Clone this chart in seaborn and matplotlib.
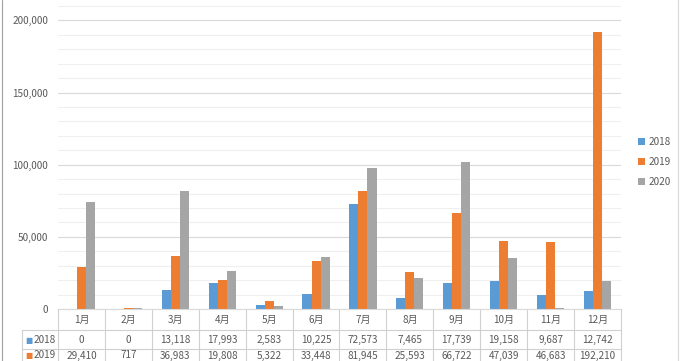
import numpy as np
import pandas as pd
import seaborn as sns
import matplotlib.pyplot as plt
from matplotlib.patches import Patch
from matplotlib.lines import Line2D
from matplotlib.ticker import MultipleLocator, FuncFormatter
import matplotlib.transforms as mtransforms

# データ
months = ['1月', '2月', '3月', '4月', '5月', '6月', '7月', '8月', '9月', '10月', '11月', '12月']
years = ['2018', '2019', '2020']
v2018 = [0, 0, 13118, 17993, 2583, 10225, 72573, 7465, 17739, 19158, 9687, 12742]
v2019 = [29410, 717, 36983, 19808, 5322, 33448, 81945, 25593, 66722, 47039, 46683, 192210]
v2020 = [74000, 800, 81600, 26500, 2100, 36300, 97700, 21600, 101900, 35600, 700, 19500]
colors = ['#5B9BD5', '#ED7D31', '#A5A5A5']

df = pd.DataFrame({
    'month': months * 3,
    'year': [y for y in years for _ in months],
    'value': v2018 + v2019 + v2020,
})

sns.set_style('white')
plt.rcParams['font.family'] = ['Noto Sans CJK JP', 'DejaVu Sans']
txt_color = '#595959'
grid_major = '#D9D9D9'
grid_minor = '#EFEFEF'
fs = 7.2

fig = plt.figure(figsize=(6.88, 3.61), dpi=100)
ax = fig.add_axes([58 / 688, 52 / 361, 563 / 688, 303 / 361])

sns.barplot(data=df, x='month', y='value', hue='year', palette=colors,
            width=0.58, saturation=1, linewidth=0, ax=ax, legend=False)

ax.set_xlim(-0.5, 11.5)
ax.set_ylim(0, 210000)
ax.yaxis.set_major_locator(MultipleLocator(50000))
ax.yaxis.set_minor_locator(MultipleLocator(10000))
ax.yaxis.set_major_formatter(FuncFormatter(lambda v, p: f'{int(v):,}'))
ax.grid(which='minor', axis='y', color=grid_minor, lw=0.8)
ax.grid(which='major', axis='y', color=grid_major, lw=0.8)
ax.set_axisbelow(True)
ax.tick_params(axis='y', which='both', length=0, labelsize=fs, labelcolor=txt_color, pad=7)
ax.tick_params(axis='x', length=0, labelbottom=False)
ax.set_xlabel('')
ax.set_ylabel('')
for s in ['top', 'right', 'left']:
    ax.spines[s].set_visible(False)
ax.spines['bottom'].set_color(grid_major)
ax.spines['bottom'].set_linewidth(0.8)

# データテーブル
trans = mtransforms.blended_transform_factory(ax.transData, ax.transAxes)
px = 1 / 303
row_edges = [0, -21 * px, -40 * px, -60 * px]
row_text = [-11 * px, -31 * px, -46.5 * px]
left_edge = -0.5 - 36 / 46.9
line_kw = dict(color='#D0D0D0', lw=0.8, transform=trans, clip_on=False)

for i in range(13):
    ax.add_line(Line2D([i - 0.5, i - 0.5], [0, row_edges[-1]], **line_kw))
ax.add_line(Line2D([left_edge, left_edge], [row_edges[1], row_edges[-1]], **line_kw))
for r in row_edges[1:3]:
    ax.add_line(Line2D([left_edge, 11.5], [r, r], **line_kw))

for i, m in enumerate(months):
    ax.text(i, row_text[0], m, ha='center', va='center',
            fontsize=fs, color=txt_color, transform=trans, clip_on=False)
for row, (yr, vals, c) in enumerate(zip(years[:2], [v2018, v2019], colors)):
    yc = row_text[row + 1]
    for i, v in enumerate(vals):
        ax.text(i, yc, f'{v:,}', ha='center', va='center', fontsize=fs,
                color=txt_color, transform=trans, clip_on=False)
    ax.text(left_edge + 0.07, yc, '■', ha='left', va='center', fontsize=5.5,
            color=c, transform=trans, clip_on=False, family='DejaVu Sans')
    ax.text(left_edge + 0.25, yc, yr, ha='left', va='center', fontsize=fs,
            color=txt_color, transform=trans, clip_on=False)

# 凡例
handles = [Patch(facecolor=c, edgecolor='none') for c in colors]
fig.legend(handles, years, loc='center left', bbox_to_anchor=(629 / 688, 1 - 162 / 361),
           frameon=False, fontsize=fs, labelcolor=txt_color, handlelength=0.7,
           handleheight=0.7, handletextpad=0.4, labelspacing=1.0)

# 枠線
fig.add_artist(Line2D([2 / 688, 2 / 688], [0, 1], color='#A0A0A0', lw=0.8))
fig.add_artist(Line2D([678 / 688, 678 / 688], [0, 1], color='#D9D9D9', lw=0.8))

fig.savefig('out.png', dpi=100)
